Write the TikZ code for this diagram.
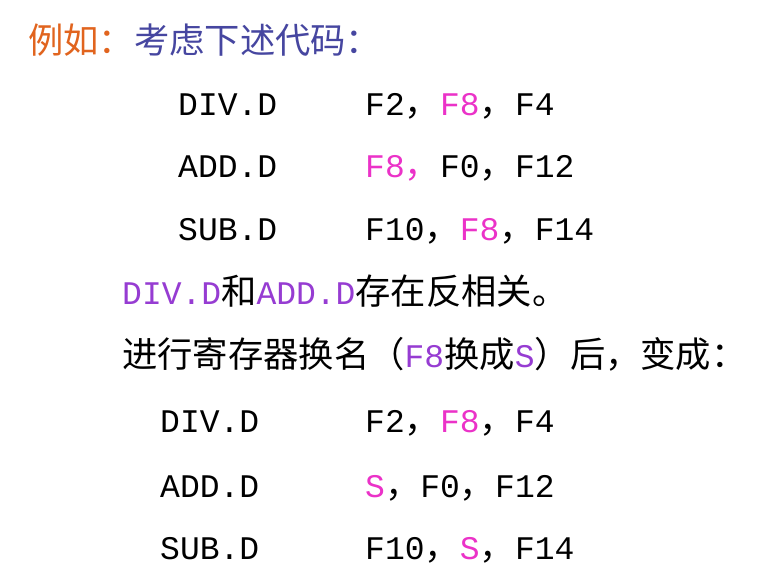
\documentclass[tikz,border=0pt]{standalone}
\usepackage{fontspec}
\setmainfont{Liberation Mono}
\newfontfamily\cjk[Scale=1.07]{Noto Sans CJK SC}
\newcommand{\C}[1]{{\cjk #1}}
\definecolor{org}{RGB}{225,100,30}
\definecolor{blu}{RGB}{70,70,160}
\definecolor{mag}{RGB}{235,50,200}
\definecolor{pur}{RGB}{150,60,210}
\begin{document}
\begin{tikzpicture}[x=1pt,y=1pt,
  txt/.style={anchor=base west,inner sep=0pt,font=\fontsize{33}{38}\selectfont}]
\useasboundingbox (0,0) rectangle (779,-579);
\fill[white] (0,0) rectangle (779,-579);
\node[txt] (t1) at (28,-53) {\textcolor{org}{\C{例如：}}\textcolor{blu}{\C{考虑下述代码：}}};
\node[txt] (a1) at (178,-115) {DIV.D};
\node[txt] (b1) at (365,-115) {F2\C{，}\textcolor{mag}{F8}\C{，}F4};
\node[txt] (a2) at (178,-177) {ADD.D};
\node[txt] (b2) at (365,-177) {\textcolor{mag}{F8\C{，}}F0\C{，}F12};
\node[txt] (a3) at (178,-240) {SUB.D};
\node[txt] (b3) at (365,-240) {F10\C{，}\textcolor{mag}{F8}\C{，}F14};
\node[txt] (t2) at (122,-304) {\textcolor{pur}{DIV.D}\C{和}\textcolor{pur}{ADD.D}\C{存在反相关。}};
\node[txt] (t3) at (122,-367) {\C{进行寄存器换名（}\textcolor{pur}{F8}\C{换成}\textcolor{pur}{S}\C{）后，变成：}};
\node[txt] (c1) at (160,-432) {DIV.D};
\node[txt] (d1) at (365,-432) {F2\C{，}\textcolor{mag}{F8}\C{，}F4};
\node[txt] (c2) at (160,-497) {ADD.D};
\node[txt] (d2) at (365,-497) {\textcolor{mag}{S}\C{，}F0\C{，}F12};
\node[txt] (c3) at (160,-559) {SUB.D};
\node[txt] (d3) at (365,-559) {F10\C{，}\textcolor{mag}{S}\C{，}F14};
\end{tikzpicture}
\end{document}
